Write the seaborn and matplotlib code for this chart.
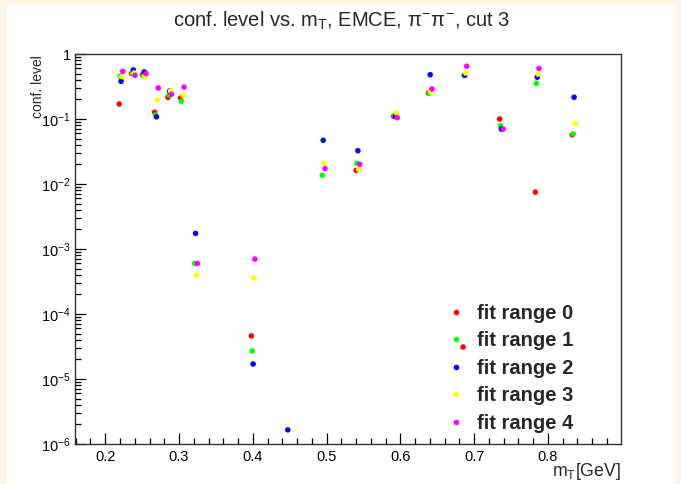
import numpy as np
import pandas as pd
import matplotlib
matplotlib.use("Agg")
import matplotlib.pyplot as plt
import matplotlib.ticker as mticker
from matplotlib.patches import Rectangle
from matplotlib.lines import Line2D
import seaborn as sns

# ---------------- data ----------------
mT_base = [0.219, 0.2356, 0.2505, 0.267, 0.285, 0.302, 0.320, 0.398, 0.445,
           0.493, 0.540, 0.591, 0.638, 0.685, 0.7345, 0.783, 0.833]
series_names = ["fit range 0", "fit range 1", "fit range 2", "fit range 3", "fit range 4"]
series_shift = [0.0, 0.0012, 0.0024, 0.0036, 0.0048]
nan = np.nan
range0 = [0.17, 0.50, 0.48, 0.127, 0.215, 0.21, nan, 4.6e-5, nan,
          nan, 0.0162, 0.11, 0.25, 3.1e-5, 0.10, 0.0075, 0.057]
range1 = [0.46, 0.50, 0.46, 0.115, 0.236, 0.187, 6.0e-4, 2.7e-5, nan,
          0.0136, 0.0208, 0.115, 0.25, 0.47, 0.079, 0.354, 0.059]
range2 = [0.38, 0.57, 0.53, 0.108, 0.27, nan, 1.74e-3, 1.7e-5, 1.65e-6,
          0.047, 0.0325, 0.11, 0.48, 0.47, 0.070, 0.44, 0.216]
range3 = [0.45, 0.51, 0.45, 0.196, 0.27, 0.23, 3.96e-4, 3.6e-4, nan,
          0.021, 0.0168, 0.125, 0.26, 0.51, nan, 0.49, 0.085]
range4 = [0.54, 0.47, 0.50, 0.30, 0.24, 0.31, 6.0e-4, 7.0e-4, nan,
          0.0172, 0.0201, 0.105, 0.29, 0.65, 0.070, 0.60, nan]
colors = ["#ff0000", "#00ff00", "#0000ff", "#ffff00", "#ff00ff"]
x_ticks = [0.2, 0.3, 0.4, 0.5, 0.6, 0.7, 0.8]
y_ticks = [1e-6, 1e-5, 1e-4, 1e-3, 1e-2, 1e-1, 1]

rows = []
for name, shift, vals in zip(series_names, series_shift, [range0, range1, range2, range3, range4]):
    for xb, v in zip(mT_base, vals):
        if not np.isnan(v):
            rows.append({"mT": xb + shift, "cl": v, "series": name})
df = pd.DataFrame(rows)

# ---------------- style ----------------
sns.set_style("ticks")
plt.rcParams["font.family"] = ["Liberation Sans", "DejaVu Sans"]
plt.rcParams["mathtext.fontset"] = "custom"
plt.rcParams["mathtext.rm"] = "Liberation Sans"
plt.rcParams["mathtext.it"] = "Liberation Sans"
plt.rcParams["mathtext.bf"] = "Liberation Sans:bold"

W, H = 681, 484
fig = plt.figure(figsize=(W / 100, H / 100), dpi=100)
fig.patch.set_facecolor("#fdf5e6")
fig.patches.append(Rectangle((7 / W, 0), (675 - 7) / W, (H - 5) / H,
                             transform=fig.transFigure, facecolor="white",
                             edgecolor="none", zorder=-10))

ax = fig.add_axes([75 / W, (H - 444) / H, (621 - 75) / W, (444 - 54) / H])
ax.set_facecolor("white")

sns.scatterplot(data=df, x="mT", y="cl", hue="series", hue_order=series_names,
                palette=colors, s=16, edgecolor="none", linewidth=0, ax=ax,
                legend=False, zorder=3)

ax.set_yscale("log")
ax.set_xlim(0.159, 0.899)
ax.set_ylim(1e-6, 1)

ax.set_xticks(x_ticks)
ax.xaxis.set_minor_locator(mticker.MultipleLocator(0.02))
ax.xaxis.set_major_formatter(mticker.FuncFormatter(lambda v, p: f"{v:.1f}"))
ax.set_yticks(y_ticks)
ax.yaxis.set_minor_locator(mticker.LogLocator(base=10, subs=np.arange(2, 10)))
ax.yaxis.set_minor_formatter(mticker.NullFormatter())


def yfmt(v, p):
    e = int(round(np.log10(v)))
    if e == 0:
        return "1"
    return r"$10^{%d}$" % e


ax.yaxis.set_major_formatter(mticker.FuncFormatter(yfmt))

ax.tick_params(which="both", direction="in", top=False, right=False,
               colors="black", labelsize=10.5)
ax.tick_params(which="major", length=8, width=0.9)
ax.tick_params(which="minor", length=4.3, width=0.9)
ax.tick_params(axis="x", pad=4.5)
ax.tick_params(axis="y", pad=3)
for sp in ax.spines.values():
    sp.set_visible(True)
    sp.set_color("#333333")
    sp.set_linewidth(1.0)

ax.set_xlabel("")
ax.set_ylabel("")
fig.text(621 / W, 1 - 471 / H, r"m$_{\mathrm{T}}$[GeV]", ha="right", va="center", fontsize=12.8)
fig.text(38 / W, 1 - 55 / H, "conf. level", ha="center", va="top", rotation=90, fontsize=10)
fig.text(0.502, 1 - 21 / H, r"conf. level vs. m$_{\mathrm{T}}$, EMCE, $\pi^{-}\pi^{-}$, cut 3",
         ha="center", va="center", fontsize=14.5)

handles = [Line2D([0], [0], marker="o", linestyle="none", markersize=4,
                  markerfacecolor=c, markeredgecolor="none") for c in colors]
leg = ax.legend(handles, series_names, loc="upper left",
                bbox_to_anchor=(446 / W, 1 - 304 / H), bbox_transform=fig.transFigure,
                frameon=False, prop={"weight": "bold", "size": 14.5},
                handlelength=1.0, handletextpad=0.55, labelspacing=0.42,
                borderaxespad=0, borderpad=0)

fig.savefig("out.png", dpi=100, facecolor=fig.get_facecolor())
